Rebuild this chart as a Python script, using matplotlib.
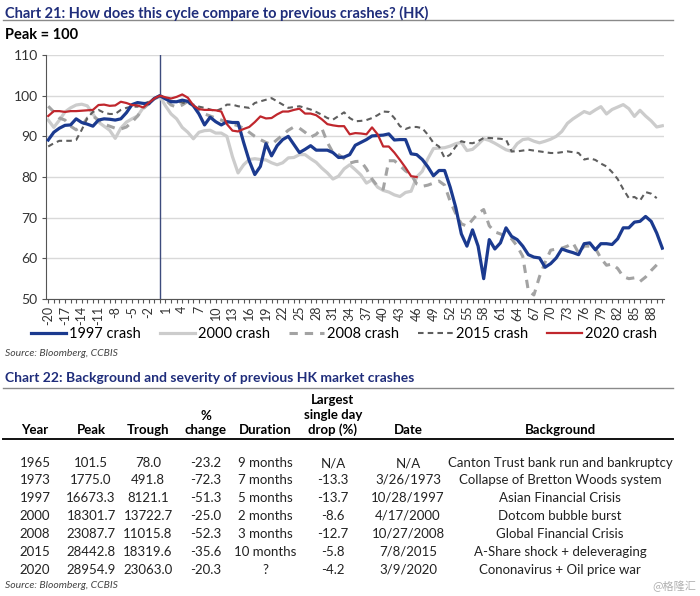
import numpy as np
import matplotlib
matplotlib.use('Agg')
import matplotlib.pyplot as plt

plt.rcParams['font.family'] = ['Lato', 'DejaVu Sans']
plt.rcParams['lines.scale_dashes'] = False

# months relative to peak
months = list(range(-20, 91))

crash_1997 = [89.1, 91, 92, 92.7, 92.8, 94.3, 93.4, 93, 92.5, 94, 94.3, 94.2, 94, 94.3, 95.8, 97.8, 98.3, 98.1, 98, 99.3,
              100, 99.2, 98.5, 98.5, 98.9, 98.6, 97.5, 95.5, 92.8, 94.7, 93.6, 92.8, 93.6, 93.4, 93.4, 88.5, 84, 80.6, 82.6, 88.2,
              85.2, 87.7, 89.2, 90, 88, 86, 86.8, 87.7, 86.6, 86.6, 86.6, 86, 84.8, 84.9, 85.5, 87.8, 88.5, 89.2, 90.1, 90.2,
              90.3, 90.6, 89.1, 89.2, 89.2, 85.7, 85.5, 84.3, 82.5, 80.3, 81.6, 81.6, 77.5, 72.5, 66, 63, 67, 63, 55, 64.6,
              62.3, 63.8, 67.5, 65.4, 64.6, 63, 60.9, 60.3, 60.1, 57.8, 58.7, 60.1, 62.3, 61.8, 61.4, 60.9, 63.6, 63.8, 62.1, 63.6,
              63.6, 63.4, 64.8, 67.5, 67.5, 68.9, 69.1, 70.3, 69.1, 66.2, 62.5]

crash_2000 = [94, 92.2, 94, 96, 97, 97.7, 97.9, 97.5, 95.5, 93.5, 92.5, 91.5, 89.5, 92, 93.5, 94.3, 95, 97, 98.3, 99.2,
              99.8, 97.5, 95.5, 94.3, 92.2, 91, 89.4, 91, 91.4, 91.5, 90.8, 90.8, 90, 85, 81, 83, 84.3, 84.5, 84.3, 84.2,
              83.5, 83, 83.5, 84.7, 84.8, 85.5, 85.5, 84.5, 83.6, 82.2, 81, 79.5, 80.2, 82, 83, 81.8, 80.5, 78.5, 79.3, 77.5,
              76.7, 76.3, 75.6, 75.2, 76.2, 76.5, 80, 81.4, 84.5, 87, 87.1, 87.2, 87.6, 88.2, 88.5, 86.5, 86.8, 88, 89.4, 89,
              88.3, 87.5, 86.7, 86.3, 88.2, 89.2, 89.4, 88.8, 88.4, 88.8, 89.3, 90, 91.2, 93.2, 94.3, 95.2, 96.1, 95.6, 96.5, 97.3,
              95.5, 96.6, 97.2, 97.8, 96.8, 94.9, 96.4, 95, 93.8, 92.3, 92.6]

crash_2008 = [97.4, 96, 94.5, 94, 92.5, 91.6, 92.5, 94.5, 95, 94, 93, 92.5, 92, 91.8, 92.3, 93.5, 95, 96.8, 98, 99.3,
              100, 99, 97.7, 97.2, 97.7, 98.6, 97.5, 96.5, 95.5, 95, 94.5, 94, 93.5, 93, 92.6, 92, 91, 90, 89.2, 88.5,
              88, 89.2, 90.3, 91.5, 92.3, 92, 91, 89.8, 90.5, 92, 88.5, 86, 85.5, 84.5, 83.4, 83.8, 83.9, 82, 79.5, 77.7,
              77, 84, 84, 82.8, 81.5, 80.6, 78.3, 77.7, 78, 78.5, 79, 78, 74, 71, 68.5, 67.9, 69.5, 71.1, 72, 68,
              66.5, 66, 65.4, 64.8, 63, 60.5, 52, 51, 55.5, 59, 62, 62.3, 62.5, 63, 63.8, 61.3, 63, 63, 62.5, 60,
              58.3, 58.6, 57.5, 55.5, 55, 55.2, 54.3, 55.4, 57, 58.4, None]

crash_2015 = [87.5, 88.3, 88.9, 88.9, 88.9, 89.1, 91.6, 94.5, 96, 96.5, 95.8, 95.5, 95.5, 96.5, 97, 97.3, 97.3, 98, 98.5, 99.4,
              100, 99.3, 98.7, 98.5, 98.3, 98, 97.8, 97.3, 97, 96.6, 96.2, 96.8, 97.8, 97.8, 97.4, 97.2, 97, 98.2, 98.6, 99,
              99.4, 98.6, 97.8, 97, 97.2, 97.4, 97, 96.6, 96, 95.3, 94.5, 94.1, 95, 95.9, 94.5, 93.7, 93.8, 94, 94.5, 95.2,
              96.1, 96, 94.5, 92.5, 91.8, 92.3, 92.3, 92, 90.4, 88.4, 87.5, 84.7, 85.5, 87.5, 88.8, 88.4, 88.3, 88.8, 89.6, 89.6,
              89.5, 89.4, 89.2, 86.3, 86.3, 86.5, 86.7, 86.5, 86.3, 86.1, 85.9, 85.9, 86.1, 86.3, 86.1, 85.9, 84.3, 84.6, 84.2, 83.3,
              82.6, 81.2, 79.5, 77, 74.8, 75.1, 74.2, 76.3, 75.9, 74.8, None]

crash_2020 = [95, 96.2, 96.2, 96, 96.2, 96.2, 96.3, 96.4, 96.5, 97.7, 97.8, 97.5, 97.6, 98.5, 98.2, 97.7, 97.6, 97.1, 98.2, 99.3,
              100, 99.6, 99.3, 99.7, 100.3, 99.5, 97.6, 96.7, 96.5, 96.5, 96.4, 96.1, 93, 91.4, 91.2, 91.8, 92.3, 93.5, 94.9, 94.4,
              94.5, 95.4, 96.1, 96.1, 96.5, 96.8, 95.6, 95.6, 95.2, 94.2, 93, 92.7, 92.5, 92.5, 90.5, 90.8, 90.7, 90.5, 92.2, 90.5,
              87.5, 87.5, 86, 84.2, 82.3, 80.2, 80]

# table
col_heads = ['Year', 'Peak', 'Trough', '%\nchange', 'Duration', 'Largest\nsingle day\ndrop (%)', 'Date', 'Background']
years = ['1965', '1973', '1997', '2000', '2008', '2015', '2020']
peaks = ['101.5', '1775.0', '16673.3', '18301.7', '23087.7', '28442.8', '28954.9']
troughs = ['78.0', '491.8', '8121.1', '13722.7', '11015.8', '18319.6', '23063.0']
pct_change = ['-23.2', '-72.3', '-51.3', '-25.0', '-52.3', '-35.6', '-20.3']
durations = ['9 months', '7 months', '5 months', '2 months', '3 months', '10 months', '?']
max_drop = ['N/A', '-13.3', '-13.7', '-8.6', '-12.7', '-5.8', '-4.2']
dates = ['N/A', '3/26/1973', '10/28/1997', '4/17/2000', '10/27/2008', '7/8/2015', '3/9/2020']
backgrounds = ['Canton Trust bank run and bankruptcy', 'Collapse of Bretton Woods system',
               'Asian Financial Crisis', 'Dotcom bubble burst', 'Global Financial Crisis',
               'A-Share shock + deleveraging', 'Cononavirus + Oil price war']

W, H = 700, 596
title_blue = '#1f2d7b'


def fx(px):
    return px / W


def fy(py):
    return 1 - py / H


def series(vals):
    return np.array([np.nan if v is None else v for v in vals], dtype=float)


fig = plt.figure(figsize=(7, 5.96), dpi=100)

# chart 21 header
fig.text(fx(5), fy(13), 'Chart 21: How does this cycle compare to previous crashes? (HK)',
         color=title_blue, fontsize=10.5, fontweight='bold', va='center')
fig.add_artist(plt.Line2D([fx(3), fx(673)], [fy(20), fy(20)], color='#8a8a8a', lw=1))
fig.text(fx(5), fy(35), 'Peak = 100', fontsize=10.5, fontweight='bold', va='center')

ax = fig.add_axes([fx(46), fy(299), fx(664) - fx(46), fy(55) - fy(299)])

ax.plot(months[:len(crash_1997)], series(crash_1997), color='#1b3a8f', lw=2.3, label='1997 crash', zorder=5)
ax.plot(months[:len(crash_2000)], series(crash_2000), color='#cccccc', lw=2.3, label='2000 crash', zorder=2)
ax.plot(months[:len(crash_2008)], series(crash_2008), color='#a3a3a3', lw=2.2, dashes=(6, 5),
        label='2008 crash', zorder=3)
ax.plot(months[:len(crash_2015)], series(crash_2015), color='#5e5e5e', lw=1.5, dashes=(4, 3),
        label='2015 crash', zorder=4)
ax.plot(months[:len(crash_2020)], series(crash_2020), color='#c0272d', lw=1.6, label='2020 crash', zorder=6)

ax.axvline(0, color='#3d4b7d', lw=1, zorder=1)

ax.set_xlim(-20.4, 90.3)
ax.set_ylim(50, 110)
ax.set_yticks(range(50, 111, 10))
ax.grid(axis='y', color='#d9d9d9', lw=1)
ax.set_axisbelow(True)
ax.set_xticks(months)
ax.set_xticklabels([str(m) if (m + 20) % 3 == 0 else '' for m in months], rotation=90)
ax.tick_params(axis='x', length=3, width=0.8, color='#555555', labelsize=9, pad=2, labelcolor='#333333')
ax.tick_params(axis='y', length=3, width=0.8, color='#555555', labelsize=10, pad=3, labelcolor='#333333')
for side in ['top', 'right']:
    ax.spines[side].set_visible(False)
ax.spines['left'].set_color('#555555')
ax.spines['bottom'].set_color('#555555')

fig.legend(loc='center', bbox_to_anchor=(fx(344), fy(334)), ncol=5, frameon=False,
           fontsize=10.5, handlelength=2.4, columnspacing=1.3, handletextpad=0.2)

fig.text(fx(5), fy(353), 'Source: Bloomberg, CCBIS', fontsize=7.5, style='italic', color='#444444', va='center')

# chart 22 table
fig.text(fx(5), fy(378), 'Chart 22: Background and severity of previous HK market crashes',
         color=title_blue, fontsize=10, fontweight='bold', va='center')
fig.add_artist(plt.Line2D([fx(3), fx(673)], [fy(388), fy(388)], color='#8a8a8a', lw=1))

col_x = [35, 91, 148, 206, 265, 333, 408, 560]
for x, head in zip(col_x, col_heads):
    fig.text(fx(x), fy(436), head, ha='center', va='bottom', fontsize=9.5, fontweight='bold',
             linespacing=1.25)
fig.add_artist(plt.Line2D([fx(3), fx(673)], [fy(439), fy(439)], color='#111111', lw=1.4))

columns = [years, peaks, troughs, pct_change, durations, max_drop, dates, backgrounds]
row_y = [463, 480, 498, 516, 534, 552, 570]
for x, col in zip(col_x, columns):
    for y, val in zip(row_y, col):
        fig.text(fx(x), fy(y), val, ha='center', va='center', fontsize=9.5, color='#222222')

fig.text(fx(5), fy(586), 'Source: Bloomberg, CCBIS', fontsize=7.5, style='italic', color='#444444', va='center')
fig.text(fx(696), fy(586), '@格隆汇', fontsize=8, color='#b0b0b0', ha='right', va='center',
         family=['Noto Sans CJK SC', 'DejaVu Sans'])

fig.savefig('out.png', dpi=100)
